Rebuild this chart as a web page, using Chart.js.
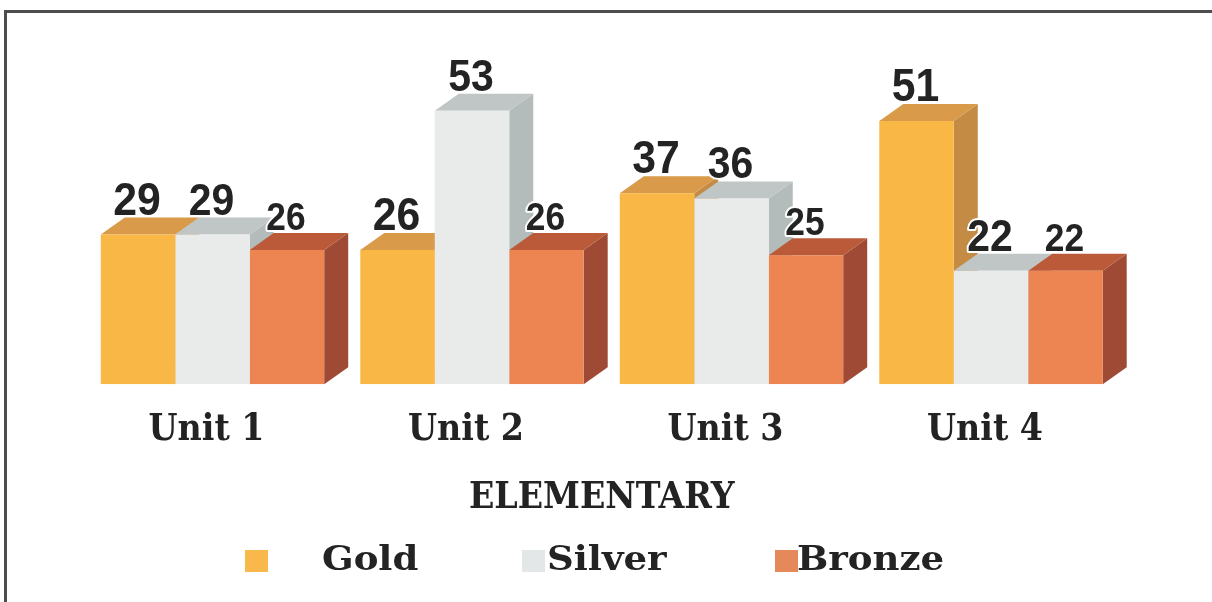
<!DOCTYPE html>
<html><head><meta charset="utf-8">
<script src="https://cdn.jsdelivr.net/npm/chart.js@4.4.1/dist/chart.umd.min.js"></script>
<style>
html,body{margin:0;padding:0;background:#fff;}
#wrap{position:relative;width:1212px;height:602px;overflow:hidden;}
#frame{position:absolute;left:4px;top:10px;width:1220px;height:600px;border-left:3px solid #4d4d4d;border-top:3px solid #4d4d4d;box-sizing:border-box;pointer-events:none}
canvas{position:absolute;left:0;top:0}
</style></head><body>
<div id="wrap"><canvas id="c" width="1212" height="602"></canvas><div id="frame"></div></div>
<script>
// ---- data ----
const categories = ['Unit 1', 'Unit 2', 'Unit 3', 'Unit 4'];
const seriesNames = ['Gold', 'Silver', 'Bronze'];
const goldValues = [29, 26, 37, 51];
const silverValues = [29, 53, 36, 22];
const bronzeValues = [26, 26, 25, 22];
const axisTitle = 'ELEMENTARY';

// ---- styles ----
const frontColors = ['#f9b745', '#e9ebeb', '#ec8552'];
const topColors = ['#d99a4a', '#bfc6c5', '#bb5a38'];
const sideColors = ['#c48b45', '#b3bcbb', '#9e4a35'];
const legendColors = ['#f8b84c', '#e4e7e7', '#e6895a'];
const labelSizes = [46, 44, 38];
const DX = 24, DY = 17;

const threeD = {
  id: 'threeD',
  beforeDatasetsDraw(chart) {
    const ctx = chart.ctx;
    const n = chart.data.labels.length;
    for (let j = 0; j < n; j++) {
      chart.data.datasets.forEach((ds, i) => {
        const el = chart.getDatasetMeta(i).data[j];
        const { x, y, base, width } = el.getProps(['x', 'y', 'base', 'width'], true);
        const l = x - width / 2, r = x + width / 2;
        ctx.save();
        ctx.fillStyle = sideColors[i];
        ctx.beginPath();
        ctx.moveTo(r, y); ctx.lineTo(r + DX, y - DY); ctx.lineTo(r + DX, base - DY); ctx.lineTo(r, base);
        ctx.closePath(); ctx.fill();
        ctx.fillStyle = topColors[i];
        ctx.beginPath();
        ctx.moveTo(l, y); ctx.lineTo(r, y); ctx.lineTo(r + DX, y - DY); ctx.lineTo(l + DX, y - DY);
        ctx.closePath(); ctx.fill();
        ctx.restore();
      });
    }
  },
  afterDatasetsDraw(chart) {
    const ctx = chart.ctx;
    chart.data.datasets.forEach((ds, i) => {
      chart.getDatasetMeta(i).data.forEach((el, j) => {
        const { x, y } = el.getProps(['x', 'y'], true);
        ctx.save();
        ctx.translate(x - 1, y - DY - 3);
        ctx.scale(0.93, 1);
        ctx.font = 'bold ' + labelSizes[i] + 'px "Liberation Sans Narrow", "Liberation Sans", Arial, sans-serif';
        ctx.textAlign = 'center';
        ctx.textBaseline = 'alphabetic';
        ctx.lineWidth = 4;
        ctx.strokeStyle = '#ffffff';
        ctx.lineJoin = 'round';
        ctx.strokeText(String(ds.data[j]), 0, 0);
        ctx.fillStyle = '#232323';
        ctx.fillText(String(ds.data[j]), 0, 0);
        ctx.restore();
      });
    });
  },
  afterDraw(chart) {
    const ctx = chart.ctx;
    const sq = [245, 522, 775];
    const tx = [322, 547, 797];
    chart.data.datasets.forEach((ds, i) => {
      ctx.save();
      ctx.fillStyle = legendColors[i];
      ctx.fillRect(sq[i], 550, 23, 22);
      ctx.translate(tx[i], 570);
      ctx.scale(1.09, 1);
      ctx.font = 'bold 34px "DejaVu Serif", serif';
      ctx.fillStyle = '#232323';
      ctx.textAlign = 'left';
      ctx.textBaseline = 'alphabetic';
      ctx.fillText(ds.label, 0, 0);
      ctx.restore();
    });
  }
};

new Chart(document.getElementById('c'), {
  type: 'bar',
  data: {
    labels: categories,
    datasets: [
      { label: seriesNames[0], data: goldValues, backgroundColor: frontColors[0] },
      { label: seriesNames[1], data: silverValues, backgroundColor: frontColors[1] },
      { label: seriesNames[2], data: bronzeValues, backgroundColor: frontColors[2] }
    ]
  },
  options: {
    responsive: false,
    animation: false,
    layout: { padding: { left: 82.75, right: 91.25, top: 74.6, bottom: 81.4 } },
    datasets: { bar: { barPercentage: 1, categoryPercentage: 0.861, borderWidth: 0 } },
    plugins: { legend: { display: false }, tooltip: { enabled: false } },
    scales: {
      x: {
        grid: { display: false, drawTicks: false },
        border: { display: false },
        ticks: { padding: 23.8, labelOffset: -6, color: '#232323', font: { family: '"DejaVu Serif Condensed", "DejaVu Serif", serif', weight: 'bold', size: 37 } },
        title: { display: true, text: axisTitle, color: '#232323', padding: { top: 0, bottom: 0 }, font: { family: '"DejaVu Serif Condensed", "DejaVu Serif", serif', weight: 'bold', size: 37 } }
      },
      y: { display: false, min: 0, max: 60 }
    }
  },
  plugins: [threeD]
});
</script>
</body></html>
